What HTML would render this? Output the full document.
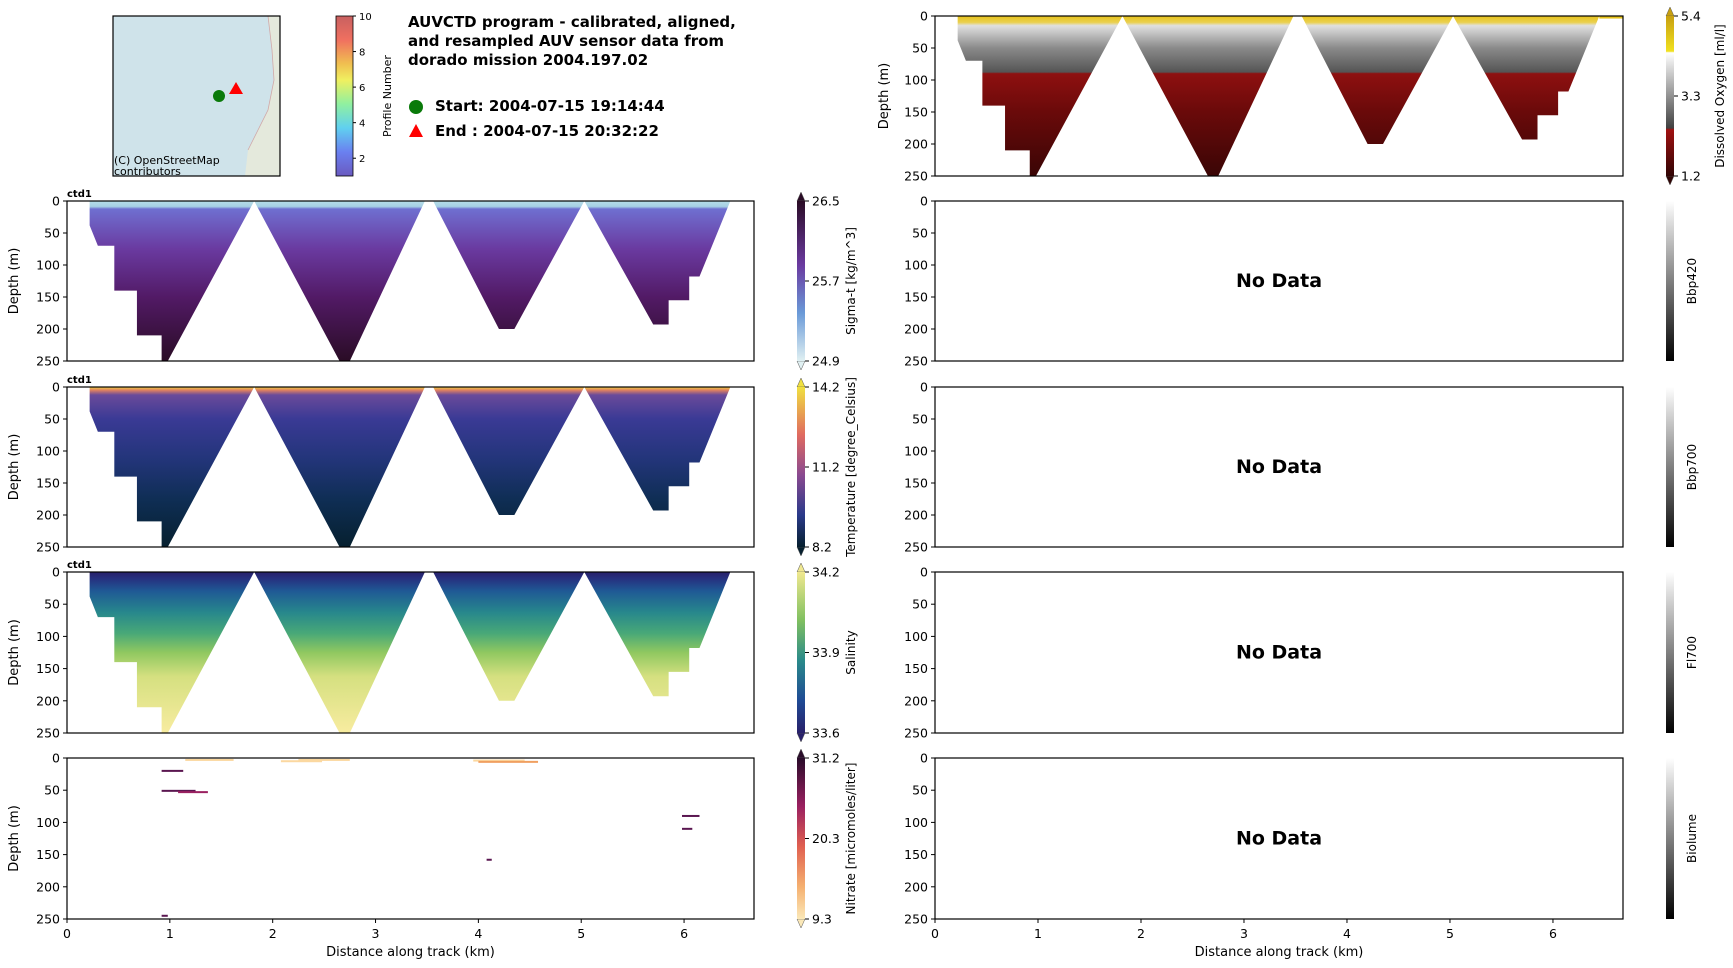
<!DOCTYPE html>
<html><head><meta charset="utf-8">
<style>
html,body{margin:0;padding:0;background:#fff;}
svg{display:block;font-family:"DejaVu Sans","Liberation Sans",sans-serif;}
</style></head>
<body>
<svg id="fig" width="1733" height="968" viewBox="0 0 1733 968" xmlns="http://www.w3.org/2000/svg">
<defs>
<linearGradient id="gSig" x1="0" y1="0" x2="0" y2="1">
<stop offset="0" stop-color="#b7dde8"/><stop offset="0.035" stop-color="#a5cfe3"/><stop offset="0.05" stop-color="#6f6fd0"/><stop offset="0.3" stop-color="#6a3aa0"/><stop offset="0.6" stop-color="#521a66"/><stop offset="1" stop-color="#2a0c26"/></linearGradient>
<linearGradient id="gTem" x1="0" y1="0" x2="0" y2="1">
<stop offset="0" stop-color="#f0d040"/><stop offset="0.02" stop-color="#e08060"/><stop offset="0.05" stop-color="#6a4a9a"/><stop offset="0.2" stop-color="#3a3a95"/><stop offset="0.45" stop-color="#23357a"/><stop offset="0.7" stop-color="#0f2e55"/><stop offset="1" stop-color="#06202f"/></linearGradient>
<linearGradient id="gSal" x1="0" y1="0" x2="0" y2="1">
<stop offset="0" stop-color="#28206a"/><stop offset="0.04" stop-color="#26307f"/><stop offset="0.12" stop-color="#1f5a95"/><stop offset="0.25" stop-color="#27878c"/><stop offset="0.38" stop-color="#48a878"/><stop offset="0.5" stop-color="#90c860"/><stop offset="0.65" stop-color="#d5e080"/><stop offset="1" stop-color="#f8eca0"/></linearGradient>
<linearGradient id="gOxy" x1="0" y1="0" x2="0" y2="1">
<stop offset="0" stop-color="#e6c21a"/><stop offset="0.04" stop-color="#ead050"/><stop offset="0.06" stop-color="#e0e0e0"/><stop offset="0.2" stop-color="#8a8a8a"/><stop offset="0.35" stop-color="#555"/><stop offset="0.36" stop-color="#8e1010"/><stop offset="0.6" stop-color="#6a0a0a"/><stop offset="1" stop-color="#3a0505"/></linearGradient>
<linearGradient id="cbSig" x1="0" y1="0" x2="0" y2="1"><stop offset="0" stop-color="#2a0c26"/><stop offset="0.4" stop-color="#6a3aa0"/><stop offset="0.7" stop-color="#6a9ad8"/><stop offset="1" stop-color="#e0f0f2"/></linearGradient>
<linearGradient id="cbTem" x1="0" y1="0" x2="0" y2="1"><stop offset="0" stop-color="#f0e040"/><stop offset="0.3" stop-color="#e06a60"/><stop offset="0.55" stop-color="#8a4a90"/><stop offset="0.8" stop-color="#2a3a8a"/><stop offset="1" stop-color="#06202f"/></linearGradient>
<linearGradient id="cbSal" x1="0" y1="0" x2="0" y2="1"><stop offset="0" stop-color="#f0e890"/><stop offset="0.3" stop-color="#80c060"/><stop offset="0.55" stop-color="#2a8a8a"/><stop offset="0.8" stop-color="#1f4a95"/><stop offset="1" stop-color="#28206a"/></linearGradient>
<linearGradient id="cbNit" x1="0" y1="0" x2="0" y2="1"><stop offset="0" stop-color="#2a0c2a"/><stop offset="0.3" stop-color="#9a2060"/><stop offset="0.55" stop-color="#e06050"/><stop offset="0.8" stop-color="#f5b070"/><stop offset="1" stop-color="#fbe8b8"/></linearGradient>
<linearGradient id="cbOxy" x1="0" y1="0" x2="0" y2="1"><stop offset="0" stop-color="#c8a010"/><stop offset="0.22" stop-color="#f0e020"/><stop offset="0.23" stop-color="#ffffff"/><stop offset="0.7" stop-color="#404040"/><stop offset="0.71" stop-color="#a01010"/><stop offset="1" stop-color="#300505"/></linearGradient>
<linearGradient id="cbGray" x1="0" y1="0" x2="0" y2="1"><stop offset="0" stop-color="#ffffff"/><stop offset="1" stop-color="#000000"/></linearGradient>
<linearGradient id="cbProf" x1="0" y1="0" x2="0" y2="1"><stop offset="0" stop-color="#c86060"/><stop offset="0.15" stop-color="#f07060"/><stop offset="0.3" stop-color="#f0c050"/><stop offset="0.4" stop-color="#f0f060"/><stop offset="0.55" stop-color="#90f0a0"/><stop offset="0.7" stop-color="#60d0f0"/><stop offset="0.85" stop-color="#6a80f0"/><stop offset="1" stop-color="#6a5ac0"/></linearGradient>
</defs>
<g id="layer"></g>
</svg>
<script>
// ---- data ----
const trackKm    = [0.22,0.22,0.30,0.46,0.46,0.68,0.68,0.92,0.92,0.98,1.82,2.65,2.75,3.48,3.56,4.20,4.35,5.03,5.70,5.85,5.85,6.05,6.05,6.15,6.45];
const trackDepth = [0,   38,  70,  70,  140, 140, 210, 210, 250, 250, 0,   250, 250, 0,   0,   200, 200, 0,   193, 193, 155, 155, 118, 118, 0];
const xTicks = [0,1,2,3,4,5,6];
const yTicks = [0,50,100,150,200,250];
const nitrateX0 = [0.92,0.92,1.08,1.15,2.08,2.25,3.95,4.0,4.08,5.98,5.98,0.92];
const nitrateX1 = [1.13,1.25,1.37,1.62,2.48,2.75,4.45,4.58,4.13,6.15,6.08,0.98];
const nitrateD  = [20,  51,  53,  3,   5,   3,   4,   6,   158, 90,  110, 245];
const nitrateV  = [25,  25,  24,  10,  11,  10,  13,  14,  29,  29,  29,  30];
const sigmaTicks=["26.5","25.7","24.9"], tempTicks=["14.2","11.2","8.2"], salTicks=["34.2","33.9","33.6"], nitTicks=["31.2","20.3","9.3"], oxyTicks=["5.4","3.3","1.2"];

const NS="http://www.w3.org/2000/svg";
const layer=document.getElementById('layer');
function mk(tag,attrs,parent){const e=document.createElementNS(NS,tag);for(const k in attrs)e.setAttribute(k,attrs[k]);(parent||layer).appendChild(e);return e;}
const XMAX=6.68, LX0=67, LX1=754, RX0=935, RX1=1623;
const LCB=797, RCB=1666;
function xs(x0,x1){return v=>x0+v*(x1-x0)/XMAX;}
function ys(y0,y1){return v=>y0+v*(y1-y0)/250;}

function axes(x0,x1,y0,y1,name,showX,ylabX,showY){
  const g=mk('g',{});
  
  
  const X=xs(x0,x1),Y=ys(y0,y1);
  mk('rect',{x:x0,y:y0,width:x1-x0,height:y1-y0,fill:'none',stroke:'#000','stroke-width':1.2},g);
  yTicks.forEach(t=>{mk('line',{x1:x0-4,x2:x0,y1:Y(t),y2:Y(t),stroke:'#000'},g);
    const tx=mk('text',{x:x0-7,y:Y(t)+4.5,'text-anchor':'end','font-size':12.5},g);tx.textContent=t;});
  if(showY){
  const yl=mk('text',{x:ylabX,y:(y0+y1)/2,'text-anchor':'middle','font-size':13,transform:`rotate(-90 ${ylabX} ${(y0+y1)/2})`},g);
  yl.textContent='Depth (m)';
  
  }
  if(showX){xTicks.forEach(t=>{mk('line',{x1:X(t),x2:X(t),y1:y1,y2:y1+4,stroke:'#000'},g);
      const tx=mk('text',{x:X(t),y:y1+19,'text-anchor':'middle','font-size':12.5},g);tx.textContent=t;});
    const xl=mk('text',{x:(x0+x1)/2,y:y1+37,'text-anchor':'middle','font-size':13},g);
    xl.textContent='Distance along track (km)';
    
    }
  return {X,Y,g};
}
function section(x0,x1,y0,y1,grad,name,extendTop){
  const X=xs(x0,x1),Y=ys(y0,y1);
  let pts=trackKm.map((k,i)=>X(k)+','+Y(trackDepth[i]));
  const p=mk('polygon',{points:pts.join(' '),fill:`url(#${grad})`});
  
  
  if(extendTop){const r=mk('rect',{x:X(trackKm[trackKm.length-1]),y:y0,width:X(XMAX)-X(trackKm[trackKm.length-1]),height:Y(4)-y0,fill:'#e6c21a'});
    }
}
function colorbar(x,y0,y1,grad,ticks,label,name,ext){
  const g=mk('g',{});
  
  
  const w=8;
  if(ext){
    const c1=grad==='cbTem'?'#f0e040':grad==='cbOxy'?'#c8a010':grad==='cbSal'?'#f0e890':grad==='cbNit'?'#2a0c2a':'#2a0c26';
    const c2=grad==='cbSig'?'#e0f0f2':grad==='cbTem'?'#06202f':grad==='cbSal'?'#28206a':grad==='cbNit'?'#fbe8b8':'#300505';
    mk('polygon',{points:`${x},${y0} ${x+w/2},${y0-9} ${x+w},${y0}`,fill:c1,stroke:'#555','stroke-width':0.5},g);
    mk('polygon',{points:`${x},${y1} ${x+w/2},${y1+9} ${x+w},${y1}`,fill:c2,stroke:'#555','stroke-width':0.5},g);
  }
  mk('rect',{x:x,y:y0,width:w,height:y1-y0,fill:`url(#${grad})`},g);
  ticks.forEach((t,i)=>{const yy=y0+(y1-y0)*i/(ticks.length-1);
    mk('line',{x1:x+w,x2:x+w+4,y1:yy,y2:yy,stroke:'#000'},g);
    const tx=mk('text',{x:x+w+7,y:yy+4.5,'font-size':12.5},g);tx.textContent=t;});
  const lx=ticks.length?x+w+50:x+w+22, ly=(y0+y1)/2;
  const l=mk('text',{x:lx,y:ly,'text-anchor':'middle','font-size':12,transform:`rotate(-90 ${lx} ${ly})`},g);
  l.textContent=label;
}

// Left column
const L=[[201,361],[387,547],[572,733],[758,919]];
const lGr=['gSig','gTem','gSal'];
const lNames=['sigma-t-section','temperature-section','salinity-section'];
const cbG=['cbSig','cbTem','cbSal','cbNit'];
const cbT=[sigmaTicks,tempTicks,salTicks,nitTicks];
const cbL=['Sigma-t [kg/m^3]','Temperature [degree_Celsius]','Salinity','Nitrate [micromoles/liter]'];
L.forEach((r,i)=>{
  if(i<3) section(LX0,LX1,r[0],r[1],lGr[i],lNames[i],false);
  if(i===3){const X=xs(LX0,LX1),Y=ys(r[0],r[1]);
    nitrateX0.forEach((a,j)=>{const v=(nitrateV[j]-9.3)/(31.2-9.3);
      const col=v>0.7?'#5a1650':v>0.5?'#9a2060':v>0.2?'#f0a060':'#fbd8a0';
      const s=mk('rect',{x:X(a),y:Y(nitrateD[j])-1,width:X(nitrateX1[j])-X(a),height:2,fill:col});
      
      });}
  axes(LX0,LX1,r[0],r[1],'panel-'+(i+1)+'-axes',i===3,18,true);
  if(i<3){const t=mk('text',{x:LX0,y:r[0]-4,'font-size':10,'font-weight':'bold'});t.textContent='ctd1';
    }
  colorbar(LCB,r[0],r[1],cbG[i],cbT[i],cbL[i],'colorbar-'+(i+1),true);
});

// Right column
section(RX0,RX1,16,176,'gOxy','oxygen-section',true);
axes(RX0,RX1,16,176,'oxygen-axes',false,888,true);
colorbar(RCB,16,176,'cbOxy',oxyTicks,'Dissolved Oxygen [ml/l]','oxygen-colorbar',true);
const rNames=['Bbp420','Bbp700','Fl700','Biolume'];
L.forEach((r,i)=>{
  axes(RX0,RX1,r[0],r[1],rNames[i].toLowerCase()+'-axes',i===3,888,false);
  const t=mk('text',{x:(RX0+RX1)/2,y:(r[0]+r[1])/2+6,'text-anchor':'middle','font-size':19,'font-weight':'bold'});
  t.textContent='No Data';
  
  
  colorbar(RCB,r[0],r[1],'cbGray',[],rNames[i],rNames[i].toLowerCase()+'-colorbar',false);
});

// Map
const mg=mk('g',{});


mk('rect',{x:113,y:16,width:167,height:160,fill:'#cfe3ea'},mg);
mk('path',{d:'M268,16 L280,16 L280,176 L245,176 L248,150 L258,130 L268,110 L274,80 L272,50 Z',fill:'#e4e9dc'},mg);
mk('path',{d:'M268,16 L272,50 L274,80 L268,110 L258,130 L248,150',fill:'none',stroke:'#d0a8a8','stroke-width':0.8},mg);
mk('rect',{x:113,y:16,width:167,height:160,fill:'none',stroke:'#000','stroke-width':1.2},mg);
mk('circle',{cx:219,cy:96,r:6,fill:'#0a7a0a'},mg);
mk('polygon',{points:'236,82 243,94 229,94',fill:'#ff0000'},mg);
const at=mk('text',{x:114,y:164,'font-size':11},mg);at.textContent='(C) OpenStreetMap';
const at2=mk('text',{x:114,y:175,'font-size':11},mg);at2.textContent='contributors';

// profile colorbar
const pg=mk('g',{});


mk('rect',{x:336,y:16,width:17,height:160,fill:'url(#cbProf)',stroke:'#000','stroke-width':0.8},pg);
[2,4,6,8,10].forEach(v=>{const yy=176-(v-1)/9*160;mk('line',{x1:353,x2:356,y1:yy,y2:yy,stroke:'#000'},pg);
  const t=mk('text',{x:359,y:yy+4,'font-size':10},pg);t.textContent=v;});
const pl=mk('text',{x:391,y:96,'text-anchor':'middle','font-size':11,transform:'rotate(-90 391 96)'},pg);pl.textContent='Profile Number';

// Title block
const tg=mk('g',{});


['AUVCTD program - calibrated, aligned,','and resampled AUV sensor data from','dorado mission 2004.197.02'].forEach((s,i)=>{
  const t=mk('text',{x:408,y:27+i*19,'font-size':15,'font-weight':'bold'},tg);t.textContent=s;});
mk('circle',{cx:416,cy:107,r:7,fill:'#0a7a0a'},tg);
mk('polygon',{points:'416,124 423,137 409,137',fill:'#ff0000'},tg);
const s1=mk('text',{x:435,y:111,'font-size':15,'font-weight':'bold'},tg);s1.textContent='Start: 2004-07-15 19:14:44';
const s2=mk('text',{x:435,y:136,'font-size':15,'font-weight':'bold','xml:space':'preserve'},tg);s2.textContent='End  : 2004-07-15 20:32:22';
</script>
</body></html>
